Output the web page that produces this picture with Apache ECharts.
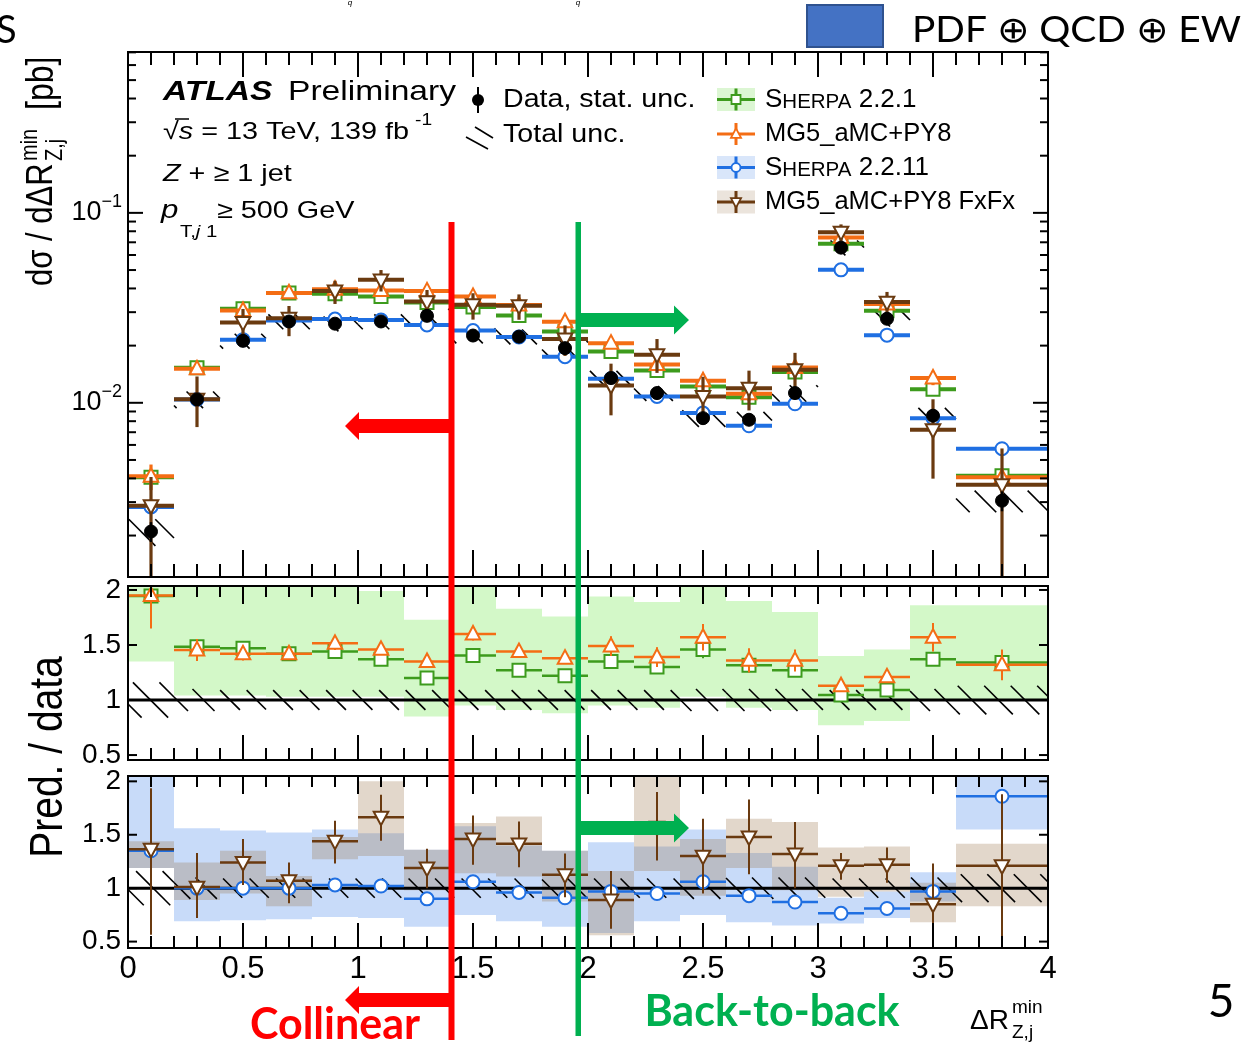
<!DOCTYPE html>
<html><head><meta charset="utf-8">
<script src="https://cdn.jsdelivr.net/npm/echarts@6/dist/echarts.min.js"></script>
<style>html,body{margin:0;padding:0;background:#fff}#c{width:1250px;height:1043px}</style>
</head><body><div id="c"></div>
<script>
// ---------------- DATA ----------------
const edges = [0,0.2,0.4,0.6,0.8,1.0,1.2,1.4,1.6,1.8,2.0,2.2,2.4,2.6,2.8,3.0,3.2,3.4,3.6,4.0];
const logTickLabels = [0.01, 0.1];
const ratioTickLabels = [0.5, 1, 1.5, 2];

const dataVal     = [0.0021,0.01042,0.0212,0.0268,0.0261,0.0268,0.0287,0.0226,0.0223,0.0194,0.0135,0.01125,0.0083,0.00814,0.01125,0.0656,0.0277,0.00855,0.00305];
const dataStatRel = [0.12,0.04,0.03,0.03,0.03,0.03,0.03,0.03,0.03,0.03,0.04,0.04,0.05,0.05,0.05,0.03,0.04,0.06,0.12];
const dataTotRel  = [0.16,0.10,0.09,0.09,0.09,0.09,0.09,0.09,0.09,0.09,0.09,0.09,0.10,0.10,0.10,0.09,0.09,0.10,0.13];

const sherpa221  = [0.00405,0.0153,0.0313,0.0379,0.0375,0.0363,0.0337,0.0319,0.0288,0.0237,0.0186,0.0148,0.0122,0.0107,0.01452,0.0687,0.0305,0.0118,0.00413];
const mg5        = [0.0041,0.0151,0.0306,0.0379,0.0396,0.039,0.0388,0.0363,0.0327,0.0267,0.0206,0.0159,0.01306,0.01115,0.01535,0.0741,0.0331,0.0135,0.00405];
const sherpa2211 = [0.00283,0.01042,0.0215,0.0271,0.0276,0.0273,0.0257,0.024,0.0222,0.0175,0.01337,0.0108,0.00883,0.00757,0.00988,0.0501,0.0227,0.0083,0.00573];
const fxfx       = [0.00287,0.01045,0.0265,0.0279,0.0388,0.0444,0.0341,0.0328,0.0324,0.0217,0.01233,0.0179,0.0108,0.01194,0.01493,0.0791,0.0339,0.00721,0.0037];

const ratioSherpa221  = [1.945,1.485,1.47,1.42,1.44,1.37,1.20,1.405,1.27,1.22,1.35,1.30,1.46,1.315,1.27,1.045,1.09,1.37,1.34];
const ratioMg5        = [1.95,1.455,1.42,1.42,1.515,1.46,1.35,1.60,1.44,1.38,1.49,1.39,1.57,1.36,1.36,1.13,1.21,1.57,1.32];
const ratioSherpa2211 = [1.35,1.0,1.0,1.0,1.03,1.02,0.90,1.06,0.96,0.91,0.97,0.95,1.06,0.93,0.87,0.765,0.81,0.97,1.86];
const ratioFxfx       = [1.365,1.01,1.24,1.07,1.44,1.665,1.19,1.46,1.415,1.125,0.89,1.57,1.30,1.48,1.32,1.21,1.22,0.85,1.21];

const errSherpa221  = [0.05,0.04,0.03,0.02,0.03,0.03,0.02,0.03,0.03,0.03,0.04,0.04,0.08,0.05,0.05,0.02,0.02,0.05,0.05];
const errMg5        = [0.3,0.1,0.06,0.04,0.06,0.05,0.04,0.06,0.05,0.05,0.09,0.09,0.12,0.11,0.1,0.05,0.05,0.13,0.14];
const errSherpa2211 = [0.05,0.02,0.02,0.02,0.02,0.02,0.02,0.02,0.02,0.02,0.02,0.02,0.03,0.03,0.03,0.02,0.02,0.03,0.04];
const errFxfxUp     = [0.57,0.32,0.22,0.17,0.19,0.21,0.18,0.22,0.21,0.2,0.27,0.33,0.35,0.35,0.30,0.12,0.16,0.38,0.67];
const errFxfxDown   = [0.8,0.29,0.21,0.21,0.21,0.22,0.19,0.24,0.22,0.21,0.27,0.31,0.35,0.35,0.32,0.13,0.17,0.38,0.85];

const bandSherpa221Lo  = [1.35,1.04,1.04,1.03,1.03,1.03,0.85,0.95,0.91,0.88,0.95,0.93,1.03,0.93,0.91,0.77,0.81,1.0,1.0];
const bandSherpa221Hi  = [2.2,2.2,2.2,2.2,2.2,1.99,1.73,2.2,1.83,1.76,1.94,1.89,2.2,1.90,1.80,1.40,1.46,1.86,1.86];
const bandSherpa2211Lo = [1.19,0.69,0.70,0.71,0.73,0.72,0.64,0.75,0.69,0.64,0.58,0.69,0.75,0.68,0.65,0.67,0.72,0.875,1.55];
const bandSherpa2211Hi = [2.2,1.56,1.54,1.52,1.55,1.515,1.36,1.58,1.40,1.35,1.43,1.39,1.55,1.33,1.20,0.91,0.97,1.15,2.2];
const bandFxfxLo       = [1.19,0.89,0.95,0.83,1.27,1.30,0.98,1.14,1.11,0.875,0.56,1.16,0.93,1.19,0.98,0.92,0.97,0.68,0.83];
const bandFxfxHi       = [1.44,1.24,1.35,1.115,1.48,2.0,1.36,1.61,1.67,1.35,1.16,2.2,1.46,1.65,1.62,1.38,1.39,1.05,1.415];

// ---------------- STYLE ----------------
const FF = "'Liberation Sans', Arial, sans-serif";
const C_GREEN = '#3d9b1d', C_ORANGE = '#f46d14', C_BLUE = '#1f6fe2', C_BROWN = '#6a3a10';
const Y0 = [0.00121, 0.703], Y1 = [0.455, 2.036], Y2 = [0.44, 2.05];
const YR = [Y0, Y1, Y2];

function clamp(v, r) { return Math.max(r[0], Math.min(r[1], v)); }
function bins(fn) { return edges.slice(0, -1).map((lo, i) => fn(lo, edges[i + 1], i)); }

function marker(shape, cx, cy, s, color, lw) {
  const st = { fill: '#fff', stroke: color, lineWidth: lw };
  if (shape === 'square') return { type: 'rect', shape: { x: cx - s / 2, y: cy - s / 2, width: s, height: s }, style: st };
  if (shape === 'circle') return { type: 'circle', shape: { cx: cx, cy: cy, r: s / 2 }, style: st };
  if (shape === 'up') return { type: 'polygon', shape: { points: [[cx, cy - s * 0.62], [cx - s * 0.56, cy + s * 0.42], [cx + s * 0.56, cy + s * 0.42]] }, style: st };
  if (shape === 'down') return { type: 'polygon', shape: { points: [[cx, cy + s * 0.62], [cx - s * 0.56, cy - s * 0.42], [cx + s * 0.56, cy - s * 0.42]] }, style: st };
  return { type: 'circle', shape: { cx: cx, cy: cy, r: s / 2 }, style: { fill: color, stroke: color, lineWidth: 1 } };
}

function predSeries(gi, data, color, shape, st) {
  const r = YR[gi];
  return {
    type: 'custom', xAxisIndex: gi, yAxisIndex: gi, data: data, silent: true,
    encode: { x: [0, 1], y: [2, 3, 4] },
    renderItem: function (params, api) {
      const xl = api.value(0), xh = api.value(1), v = api.value(2), lo = api.value(3), hi = api.value(4);
      const xm = (xl + xh) / 2;
      const inside = v >= r[0] && v <= r[1];
      const cv = clamp(v, r);
      const pL = api.coord([xl, cv]), pR = api.coord([xh, cv]), pM = api.coord([xm, cv]);
      const pLo = api.coord([xm, clamp(lo, r)]), pHi = api.coord([xm, clamp(hi, r)]);
      const ch = [];
      if (inside) ch.push({ type: 'line', shape: { x1: pL[0], y1: pL[1], x2: pR[0], y2: pR[1] }, style: { stroke: color, lineWidth: st.lw } });
      ch.push({ type: 'line', shape: { x1: pLo[0], y1: pLo[1], x2: pHi[0], y2: pHi[1] }, style: { stroke: color, lineWidth: st.ew } });
      if (inside) ch.push(marker(shape, pM[0], pM[1], st.ms, color, st.mlw));
      return { type: 'group', children: ch };
    }
  };
}

function bandSeries(gi, data, fill) {
  const r = YR[gi];
  return {
    type: 'custom', xAxisIndex: gi, yAxisIndex: gi, data: data, silent: true,
    encode: { x: [0, 1], y: [2, 3] },
    renderItem: function (params, api) {
      const a = api.coord([api.value(0), clamp(api.value(3), r)]);
      const b = api.coord([api.value(1), clamp(api.value(2), r)]);
      return { type: 'rect', shape: { x: a[0], y: a[1], width: b[0] - a[0], height: b[1] - a[1] }, style: { fill: fill } };
    }
  };
}

function hatchSeries(gi, data) {
  const r = YR[gi];
  const s = 26.5;
  return {
    type: 'custom', xAxisIndex: gi, yAxisIndex: gi, data: data, silent: true,
    encode: { x: [0, 1], y: [2, 3] },
    renderItem: function (params, api) {
      const a = api.coord([api.value(0), clamp(api.value(3), r)]);
      const b = api.coord([api.value(1), clamp(api.value(2), r)]);
      const x0 = a[0], y0 = a[1], x1 = b[0], y1 = b[1];
      const ch = [];
      const k0 = Math.floor((x0 - y1) / s), k1 = Math.ceil((x1 - y0) / s);
      for (let k = k0; k <= k1; k++) {
        const C = k * s + 7;
        const xs = Math.max(x0, C + y0), xe = Math.min(x1, C + y1);
        if (xe - xs > 1) ch.push({ type: 'line', shape: { x1: xs, y1: xs - C, x2: xe, y2: xe - C }, style: { stroke: '#000', lineWidth: 1.6 } });
      }
      return { type: 'group', children: ch };
    }
  };
}

function refLine(gi) {
  return {
    type: 'custom', xAxisIndex: gi, yAxisIndex: gi, data: [[0, 4, 1]], silent: true,
    encode: { x: [0, 1], y: 2 },
    renderItem: function (params, api) {
      const a = api.coord([api.value(0), api.value(2)]), b = api.coord([api.value(1), api.value(2)]);
      return { type: 'line', shape: { x1: a[0], y1: a[1], x2: b[0], y2: b[1] }, style: { stroke: '#000', lineWidth: 3 } };
    }
  };
}

function yTickSeries(gi, ticks, majLen, minLen) {
  return {
    type: 'custom', xAxisIndex: gi, yAxisIndex: gi, data: ticks, silent: true, z: 20,
    encode: { y: 0 },
    renderItem: function (params, api) {
      const v = api.value(0), len = api.value(1) ? majLen : minLen;
      const L = api.coord([0, v]), R = api.coord([4, v]);
      return { type: 'group', children: [
        { type: 'line', shape: { x1: L[0], y1: L[1], x2: L[0] + len, y2: L[1] }, style: { stroke: '#000', lineWidth: 2 } },
        { type: 'line', shape: { x1: R[0], y1: R[1], x2: R[0] - len, y2: R[1] }, style: { stroke: '#000', lineWidth: 2 } }
      ] };
    }
  };
}

// ---------- derived series data ----------
function topPred(vals, ratio, up, dn) {
  return bins((a, b, i) => [a, b, vals[i], vals[i] * (1 - dn[i] / ratio[i]), vals[i] * (1 + up[i] / ratio[i])]);
}
function ratioPred(ratio, up, dn) {
  return bins((a, b, i) => [a, b, ratio[i], ratio[i] - dn[i], ratio[i] + up[i]]);
}
const topData = bins((a, b, i) => [a, b, dataVal[i], dataVal[i] * (1 - dataStatRel[i]), dataVal[i] * (1 + dataStatRel[i])]);
const topHatch = bins((a, b, i) => [a, b, dataVal[i] * (1 - dataTotRel[i]), dataVal[i] * (1 + dataTotRel[i])]);
const ratioHatch = bins((a, b, i) => [a, b, 1 - dataTotRel[i], 1 + dataTotRel[i]]);

const logTicks = [];
[0.001, 0.01, 0.1].forEach(d => { for (let m = 1; m <= 9; m++) { const v = m * d; if (v > Y0[0] && v < Y0[1]) logTicks.push([v, m === 1 ? 1 : 0]); } });
const ratioTicks = ratioTickLabels.map(v => [v, 1]);

const TOP = { lw: 4, ew: 3.2, ms: 13, mlw: 2 };
const RAT = { lw: 2.5, ew: 2, ms: 13, mlw: 2 };

const series = [
  hatchSeries(0, topHatch),
  predSeries(0, topPred(sherpa221, ratioSherpa221, errSherpa221, errSherpa221), C_GREEN, 'square', TOP),
  predSeries(0, topPred(mg5, ratioMg5, errMg5, errMg5), C_ORANGE, 'up', TOP),
  predSeries(0, topPred(sherpa2211, ratioSherpa2211, errSherpa2211, errSherpa2211), C_BLUE, 'circle', TOP),
  predSeries(0, topPred(fxfx, ratioFxfx, errFxfxUp, errFxfxDown), C_BROWN, 'down', TOP),
  predSeries(0, topData, '#000', 'dot', { lw: 0, ew: 2.5, ms: 13, mlw: 1 }),
  yTickSeries(0, logTicks, 15, 8),

  bandSeries(1, bins((a, b, i) => [a, b, bandSherpa221Lo[i], bandSherpa221Hi[i]]), '#d3f8c8'),
  hatchSeries(1, ratioHatch),
  refLine(1),
  predSeries(1, ratioPred(ratioSherpa221, errSherpa221, errSherpa221), C_GREEN, 'square', RAT),
  predSeries(1, ratioPred(ratioMg5, errMg5, errMg5), C_ORANGE, 'up', RAT),
  yTickSeries(1, ratioTicks, 9, 5),

  bandSeries(2, bins((a, b, i) => [a, b, bandSherpa2211Lo[i], bandSherpa2211Hi[i]]), 'rgba(110,160,240,0.38)'),
  bandSeries(2, bins((a, b, i) => [a, b, bandFxfxLo[i], bandFxfxHi[i]]), 'rgba(150,110,70,0.28)'),
  hatchSeries(2, ratioHatch),
  refLine(2),
  predSeries(2, ratioPred(ratioSherpa2211, errSherpa2211, errSherpa2211), C_BLUE, 'circle', RAT),
  predSeries(2, ratioPred(ratioFxfx, errFxfxUp, errFxfxDown), C_BROWN, 'down', RAT),
  yTickSeries(2, ratioTicks, 9, 5)
];

// ---------- axes ----------
const gridBoxes = [
  { left: 128, top: 52, width: 920, height: 525 },
  { left: 128, top: 586, width: 920, height: 174 },
  { left: 128, top: 776, width: 920, height: 172 }
];
const xAxes = [];
const botMaj = [27, 25, 25], botMin = [13, 12, 12], topMaj = [25, 18, 18], topMin = [13, 11, 11];
for (let i = 0; i < 3; i++) {
  xAxes.push({
    type: 'value', gridIndex: i, min: 0, max: 4, interval: 0.5, position: 'bottom', z: 20,
    axisLine: { show: false }, splitLine: { show: false },
    axisTick: { show: true, inside: true, length: botMaj[i], lineStyle: { color: '#000', width: 2 } },
    minorTick: { show: true, splitNumber: 5, length: botMin[i], lineStyle: { color: '#000', width: 2 } },
    axisLabel: { show: i === 2, color: '#000', fontFamily: FF, fontSize: 31, margin: 6,
      formatter: v => String(Math.round(v * 10) / 10) }
  });
}
for (let i = 0; i < 3; i++) {
  xAxes.push({
    type: 'value', gridIndex: i, min: 0, max: 4, interval: 0.5, position: 'top', z: 20,
    axisLine: { show: false }, splitLine: { show: false },
    axisTick: { show: true, inside: true, length: topMaj[i], lineStyle: { color: '#000', width: 2 } },
    minorTick: { show: true, splitNumber: 5, length: topMin[i], lineStyle: { color: '#000', width: 2 } },
    axisLabel: { show: false }
  });
}
const yAxes = [
  { type: 'log', logBase: 10, gridIndex: 0, min: Y0[0], max: Y0[1],
    axisLine: { show: false }, axisTick: { show: false }, splitLine: { show: false },
    axisLabel: { color: '#000', margin: 6, customValues: logTickLabels,
      formatter: function (v) {
        const e = Math.round(Math.log10(v));
        return '{b|10}{s|−' + (-e) + '}';
      },
      rich: { b: { fontFamily: FF, fontSize: 27, color: '#000', lineHeight: 40 },
              s: { fontFamily: FF, fontSize: 18, color: '#000', verticalAlign: 'top', lineHeight: 20 } } } },
  { type: 'value', gridIndex: 1, min: Y1[0], max: Y1[1],
    axisLine: { show: false }, axisTick: { show: false }, splitLine: { show: false },
    axisLabel: { color: '#000', fontFamily: FF, fontSize: 28, margin: 7, customValues: ratioTickLabels } },
  { type: 'value', gridIndex: 2, min: Y2[0], max: Y2[1],
    axisLine: { show: false }, axisTick: { show: false }, splitLine: { show: false },
    axisLabel: { color: '#000', fontFamily: FF, fontSize: 28, margin: 7, customValues: ratioTickLabels } }
];

// ---------- graphics (frames, labels, legend, annotations) ----------
function txt(x, y, text, size, extra) {
  const o = { type: 'text', x: x, y: y, z: 50, silent: true,
    style: Object.assign({ text: text, fontFamily: FF, fontSize: size, fill: '#000', textAlign: 'left', textVerticalAlign: 'middle' }, (extra && extra.style) || {}) };
  if (extra) { ['scaleX', 'scaleY', 'rotation'].forEach(k => { if (extra[k] !== undefined) o[k] = extra[k]; }); }
  return o;
}
const G = [];
gridBoxes.forEach(b => G.push({ type: 'rect', z: 40, silent: true, shape: { x: b.left, y: b.top, width: b.width, height: b.height }, style: { fill: 'none', stroke: '#000', lineWidth: 2 } }));

// ATLAS label block
G.push(txt(163, 92, 'ATLAS', 28, { scaleX: 1.2, style: { fontWeight: 'bold', fontStyle: 'italic' } }));
G.push(txt(288, 92, 'Preliminary', 28, { scaleX: 1.2 }));
G.push(txt(163, 132, '{n|√}{i|s}{n| = 13 TeV, 139 fb}', 24, { scaleX: 1.2, style: { rich: { n: { fontFamily: FF, fontSize: 24 }, i: { fontFamily: FF, fontSize: 24, fontStyle: 'italic' } } } }));
G.push({ type: 'line', z: 50, silent: true, shape: { x1: 175, y1: 119, x2: 189, y2: 119 }, style: { stroke: '#000', lineWidth: 1.5 } });
G.push(txt(415, 121, '-1', 16, { scaleX: 1.2 }));
G.push(txt(163, 174, '{i|Z}{n| + ≥ 1 jet}', 24, { scaleX: 1.2, style: { rich: { n: { fontFamily: FF, fontSize: 24 }, i: { fontFamily: FF, fontSize: 24, fontStyle: 'italic' } } } }));
G.push(txt(161, 211, 'p', 26, { scaleX: 1.2, style: { fontStyle: 'italic' } }));
G.push(txt(180, 232, '{n|T,}{i|j}{n| 1}', 17, { scaleX: 1.2, style: { rich: { n: { fontFamily: FF, fontSize: 17 }, i: { fontFamily: FF, fontSize: 17, fontStyle: 'italic' } } } }));
G.push(txt(217, 211, '≥ 500 GeV', 24, { scaleX: 1.2 }));

// Legend left
G.push({ type: 'line', z: 50, silent: true, shape: { x1: 478, y1: 87, x2: 478, y2: 113 }, style: { stroke: '#000', lineWidth: 2 } });
G.push({ type: 'circle', z: 51, silent: true, shape: { cx: 478, cy: 100, r: 6 }, style: { fill: '#000' } });
G.push(txt(503, 100, 'Data, stat. unc.', 26, { scaleX: 1.1 }));
G.push({ type: 'line', z: 50, silent: true, shape: { x1: 466, y1: 137, x2: 488, y2: 149 }, style: { stroke: '#000', lineWidth: 1.6 } });
G.push({ type: 'line', z: 50, silent: true, shape: { x1: 475, y1: 127, x2: 493, y2: 138 }, style: { stroke: '#000', lineWidth: 1.6 } });
G.push(txt(503, 135, 'Total unc.', 26, { scaleX: 1.1 }));

// Legend right
const legRows = [
  { y: 99.5, color: C_GREEN, shape: 'square', box: '#dcf6d3', label: '{a|S}{b|HERPA}{a| 2.2.1}' },
  { y: 134, color: C_ORANGE, shape: 'up', box: null, label: 'MG5_aMC+PY8' },
  { y: 167.5, color: C_BLUE, shape: 'circle', box: '#d9e6fa', label: '{a|S}{b|HERPA}{a| 2.2.11}' },
  { y: 202, color: C_BROWN, shape: 'down', box: '#ebe4dc', label: 'MG5_aMC+PY8 FxFx' }
];
legRows.forEach(r => {
  if (r.box) G.push({ type: 'rect', z: 49, silent: true, shape: { x: 717, y: r.y - 11.5, width: 38, height: 23 }, style: { fill: r.box } });
  G.push({ type: 'line', z: 50, silent: true, shape: { x1: 717, y1: r.y, x2: 755, y2: r.y }, style: { stroke: r.color, lineWidth: 3 } });
  G.push({ type: 'line', z: 50, silent: true, shape: { x1: 736, y1: r.y - 11, x2: 736, y2: r.y + 11 }, style: { stroke: r.color, lineWidth: 3 } });
  const m = marker(r.shape, 736, r.y, 9, r.color, 1.8); m.z = 51; m.silent = true;
  G.push(m);
  G.push(txt(765, r.y, r.label, 25.5, { style: { rich: {
    a: { fontFamily: FF, fontSize: 26, verticalAlign: 'bottom' },
    b: { fontFamily: FF, fontSize: 20.5, verticalAlign: 'bottom' } } } }));
});

// Axis titles
G.push({ type: 'group', x: 42, y: 286, rotation: Math.PI / 2, scaleY: 1.2, z: 50, silent: true, children: [
  { type: 'text', x: 0, y: 0, style: { text: 'dσ / dΔR', fontFamily: FF, fontSize: 31, fill: '#000', textVerticalAlign: 'middle' } },
  { type: 'text', x: 125, y: -10, style: { text: 'min', fontFamily: FF, fontSize: 20, fill: '#000', textVerticalAlign: 'middle' } },
  { type: 'text', x: 125, y: 11, style: { text: 'Z,j', fontFamily: FF, fontSize: 20, fill: '#000', textVerticalAlign: 'middle' } },
  { type: 'text', x: 176, y: 0, style: { text: '[pb]', fontFamily: FF, fontSize: 32, fill: '#000', textVerticalAlign: 'middle' } }
] });
G.push({ type: 'text', x: 49, y: 757, rotation: Math.PI / 2, scaleY: 1.2, z: 50, silent: true,
  style: { text: 'Pred. / data', fontFamily: FF, fontSize: 39, fill: '#000', textAlign: 'center', textVerticalAlign: 'middle' } });
G.push(txt(970, 1021, 'ΔR', 28));
G.push(txt(1012, 1008, 'min', 19));
G.push(txt(1012, 1033, 'Z,j', 19));

// Slide annotations
G.push({ type: 'rect', z: 60, silent: true, shape: { x: 448.5, y: 222, width: 6, height: 818 }, style: { fill: '#ff0000' } });
G.push({ type: 'rect', z: 60, silent: true, shape: { x: 575.5, y: 222, width: 5.5, height: 814 }, style: { fill: '#00b050' } });
function arrowL(y, col) {
  return { type: 'polygon', z: 60, silent: true, shape: { points: [[452, y - 7], [359, y - 7], [359, y - 14], [345, y], [359, y + 14], [359, y + 7], [452, y + 7]] }, style: { fill: col } };
}
function arrowR(y, col) {
  return { type: 'polygon', z: 60, silent: true, shape: { points: [[578, y - 7], [674, y - 7], [674, y - 14.5], [689, y], [674, y + 14.5], [674, y + 7], [578, y + 7]] }, style: { fill: col } };
}
G.push(arrowL(426, '#ff0000'));
G.push(arrowL(1000, '#ff0000'));
G.push(arrowR(320, '#00b050'));
G.push(arrowR(828, '#00b050'));
G.push({ type: 'text', x: 335, y: 1047, z: 60, silent: true, style: { text: 'Collinear', fontFamily: 'Lato, sans-serif', fontWeight: 'bold', fontSize: 43, fill: '#ff0000', textAlign: 'center', textVerticalAlign: 'bottom' } });
G.push({ type: 'text', x: 772, y: 1012, z: 60, silent: true, style: { text: 'Back-to-back', fontFamily: 'Lato, sans-serif', fontWeight: 'bold', fontSize: 43, fill: '#00b050', textAlign: 'center', textVerticalAlign: 'middle' } });
G.push({ type: 'text', x: 1221, y: 1002, z: 60, silent: true, style: { text: '5', fontFamily: 'Lato, sans-serif', fontSize: 46, fill: '#000', textAlign: 'center', textVerticalAlign: 'middle' } });
G.push({ type: 'text', x: -4, y: 31, z: 60, silent: true, style: { text: 'S', fontFamily: 'Lato, sans-serif', fontSize: 38, fill: '#000', textAlign: 'left', textVerticalAlign: 'middle' } });
G.push({ type: 'rect', z: 60, silent: true, shape: { x: 807, y: 5, width: 76, height: 42 }, style: { fill: '#4472c4', stroke: '#2f528f', lineWidth: 2 } });
G.push({ type: 'text', x: 912, y: 30, z: 60, silent: true, scaleX: 1.08, style: { text: 'PDF ⊕ QCD ⊕ EW', fontFamily: 'Lato, sans-serif', fontSize: 36, fill: '#000', textAlign: 'left', textVerticalAlign: 'middle' } });
G.push({ type: 'text', x: 350, y: 3, z: 60, silent: true, style: { text: 'q', fontFamily: FF, fontSize: 8, fontStyle: 'italic', fill: '#000', textAlign: 'center', textVerticalAlign: 'middle' } });
G.push({ type: 'text', x: 578, y: 3, z: 60, silent: true, style: { text: 'q', fontFamily: FF, fontSize: 8, fontStyle: 'italic', fill: '#000', textAlign: 'center', textVerticalAlign: 'middle' } });

const chart = echarts.init(document.getElementById('c'), null, { renderer: 'canvas' });
chart.setOption({
  animation: false,
  backgroundColor: '#fff',
  grid: gridBoxes.map(b => Object.assign({ show: false, containLabel: false, outerBoundsMode: 'none' }, b)),
  xAxis: xAxes,
  yAxis: yAxes,
  series: series,
  graphic: { elements: G }
});
</script>
</body></html>
